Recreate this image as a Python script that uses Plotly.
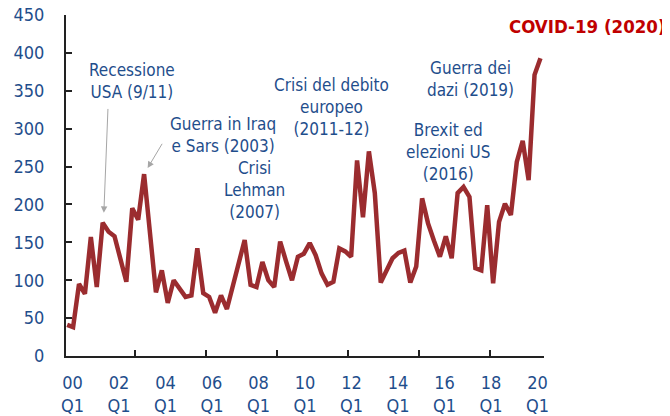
import plotly.graph_objects as go

# quarterly index values, 2000Q1 .. 2020Q1
values = [41, 38, 95, 82, 157, 91, 176, 164, 158, 128,
          98, 195, 180, 240, 162, 84, 113, 70, 100, 90,
          78, 80, 142, 83, 78, 57, 80, 62, 92, 123,
          153, 94, 91, 124, 100, 91, 151, 125, 100, 131,
          135, 149, 133, 109, 94, 98, 142, 138, 131, 258,
          183, 270, 215, 97, 113, 129, 136, 139, 97, 118,
          208, 175, 152, 131, 158, 129, 215, 223, 210, 116,
          113, 199, 96, 177, 201, 186, 256, 284, 232, 371,
          393]
quarters = list(range(len(values)))

year_labels = ["00", "02", "04", "06", "08", "10", "12", "14", "16", "18", "20"]
# the source puts its year labels slightly off the 8-quarter grid
label_pos = [0.9 + i * 7.86 for i in range(len(year_labels))]
tick_marks = [11.5, 23.5, 35.5, 47.5, 59.5, 71.5]
y_ticks = list(range(0, 451, 50))

FONT = "DejaVu Sans Condensed, Liberation Sans Narrow, Lato, sans-serif"
BLUE = "#1F4E8C"
LINE = "#9B2C2F"
GREY = "#A6A6A6"

fig = go.Figure()
fig.add_trace(go.Scatter(x=quarters, y=values, mode="lines",
                         line=dict(color=LINE, width=4.5), hoverinfo="skip"))

# event labels (x in quarters, y in index units)
notes = [
    ("Recessione<br>USA (9/11)", 10.9, 363),
    ("Guerra in Iraq<br>e Sars (2003)", 26.3, 292),
    ("Crisi<br>Lehman<br>(2007)", 31.6, 219),
    ("Crisi del debito<br>europeo<br>(2011-12)", 44.6, 328),
    ("Brexit ed<br>elezioni US<br>(2016)", 64.3, 269),
    ("Guerra dei<br>dazi (2019)", 68.2, 366),
]
for text, x, y in notes:
    fig.add_annotation(x=x, y=y, text=text, showarrow=False, xanchor="center",
                       yanchor="middle", font=dict(family=FONT, size=17, color=BLUE))

fig.add_annotation(x=1.09, y=0.965, xref="paper", yref="paper",
                   text="<b>COVID-19 (2020)</b>", showarrow=False,
                   xanchor="center", yanchor="middle",
                   font=dict(family=FONT, size=18.5, color="#C00000"))

# grey arrows
for hx, hy, tx, ty in [(6.2, 189, 6.9, 328), (13.6, 248, 16.2, 282)]:
    fig.add_annotation(x=hx, y=hy, ax=tx, ay=ty, axref="x", ayref="y", text="",
                       showarrow=True, arrowhead=2, arrowsize=1.3, arrowwidth=1,
                       arrowcolor=GREY)

# page body adds an 8px offset, so the figure is a bit smaller than the window
fig.update_layout(
    width=662, height=408,
    margin=dict(l=58, r=126, t=7, b=60, autoexpand=False),
    plot_bgcolor="white", paper_bgcolor="white",
    showlegend=False,
    font=dict(family=FONT, size=18, color=BLUE),
)
fig.update_xaxes(
    range=[-0.2, 80.6], tickmode="array", tickvals=label_pos,
    ticktext=[f"{y}<br>Q1" for y in year_labels],
    ticks="", showline=True, linecolor="#222222", linewidth=2,
    showgrid=False, zeroline=False, ticklabelstandoff=9, automargin=False,
    ticklabeloverflow="allow",
    minor=dict(tickmode="array", tickvals=tick_marks, ticks="inside",
               ticklen=6, tickwidth=1.5, tickcolor="#222222", showgrid=False),
)
fig.update_yaxes(
    range=[0, 450], tickmode="array", tickvals=y_ticks,
    ticks="inside", ticklen=6, tickwidth=1.5, tickcolor="#222222",
    showline=True, linecolor="#222222", linewidth=2, automargin=False,
    showgrid=False, zeroline=False, ticklabelstandoff=16,
    ticklabeloverflow="allow",
)

fig.write_html("out.html")
